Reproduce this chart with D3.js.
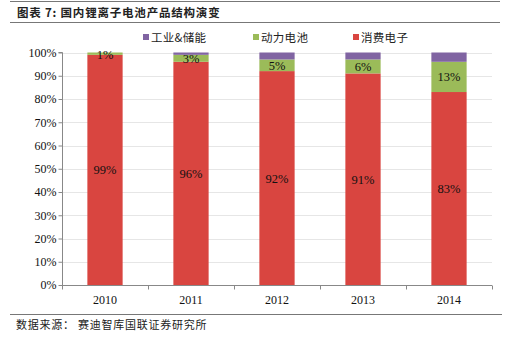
<!DOCTYPE html>
<html>
<head>
<meta charset="utf-8">
<script src="https://cdn.jsdelivr.net/npm/d3@7/dist/d3.min.js"></script>
<style>
  html, body { margin: 0; padding: 0; background: #fff; }
  svg { display: block; }
</style>
</head>
<body>
<svg id="chart" width="531" height="339"></svg>
<script>
// Product mix of domestic Li-ion batteries (share, %)
const years = ["2010", "2011", "2012", "2013", "2014"];
const consumer = [99, 96, 92, 91, 83];     // 消费电子
const power = [1, 3, 5, 6, 13];            // 动力电池
const industrial = [0, 1, 3, 3, 4];        // 工业&储能
const yTicks = [0, 10, 20, 30, 40, 50, 60, 70, 80, 90, 100];
const seriesNames = ["消费电子", "动力电池", "工业&储能"];
const legendOrder = ["工业&储能", "动力电池", "消费电子"];

const colors = { "消费电子": "#D94540", "动力电池": "#9BBB59", "工业&储能": "#8064A2" };
const serif = "'Liberation Serif', 'Times New Roman', serif";
const cjk = "'Noto Sans CJK SC', sans-serif";

const svg = d3.select("#chart");

const rows = years.map((y, i) => ({
  year: y, "消费电子": consumer[i], "动力电池": power[i], "工业&储能": industrial[i]
}));
const stacked = d3.stack().keys(seriesNames)(rows);

const x = d3.scaleBand().domain(years).range([62, 492]).paddingInner(0.59).paddingOuter(0.295);
const y = d3.scaleLinear().domain([0, 100]).range([285, 52.5]);

// header rules and title
svg.append("line").attr("x1", 10).attr("x2", 500).attr("y1", 1.5).attr("y2", 1.5)
  .attr("stroke", "#777").attr("stroke-width", 1);
svg.append("line").attr("x1", 10).attr("x2", 500).attr("y1", 22.5).attr("y2", 22.5)
  .attr("stroke", "#777").attr("stroke-width", 1);
svg.append("text").attr("x", 17).attr("y", 16.5)
  .attr("font-family", cjk).attr("font-size", 11.5).attr("font-weight", "bold").attr("fill", "#222")
  .attr("letter-spacing", 0.8)
  .text("图表 7: 国内锂离子电池产品结构演变");

// gridlines
svg.append("g").selectAll("line").data(yTicks.filter(d => d > 0)).join("line")
  .attr("x1", 62).attr("x2", 492)
  .attr("y1", d => Math.round(y(d)) + 0.5).attr("y2", d => Math.round(y(d)) + 0.5)
  .attr("stroke", "#e6e6e6").attr("stroke-width", 1);

// stacked bars
svg.append("g").selectAll("g").data(stacked).join("g")
  .attr("fill", d => colors[d.key])
  .selectAll("rect").data(d => d).join("rect")
  .attr("x", d => x(d.data.year))
  .attr("width", x.bandwidth())
  .attr("y", d => y(d[1]))
  .attr("height", d => y(d[0]) - y(d[1]));

// y axis
const yAxis = svg.append("g").attr("transform", "translate(62.5,0)")
  .call(d3.axisLeft(y).tickValues(yTicks).tickSize(4).tickFormat(d => d + "%"));
yAxis.select(".domain").attr("stroke", "#888").attr("d", `M-4,${y(100)}H0V${y(0)}`);
yAxis.selectAll(".tick line").attr("stroke", "#888");
yAxis.selectAll(".tick text").attr("font-family", serif).attr("font-size", 12)
  .attr("fill", "#111").attr("x", -6);

// x axis with boundary ticks between categories
const xAxisG = svg.append("g").attr("transform", "translate(0,285.5)");
xAxisG.append("line").attr("x1", 62).attr("x2", 492).attr("stroke", "#888");
const step = x.step();
xAxisG.selectAll("line.tk").data(d3.range(years.length + 1)).join("line")
  .attr("class", "tk")
  .attr("x1", i => Math.round(62 + i * step) + 0.5).attr("x2", i => Math.round(62 + i * step) + 0.5)
  .attr("y1", 0).attr("y2", 4).attr("stroke", "#888");
xAxisG.selectAll("text").data(years).join("text")
  .attr("x", d => x(d) + x.bandwidth() / 2).attr("y", 18)
  .attr("text-anchor", "middle").attr("font-family", serif).attr("font-size", 12).attr("fill", "#111")
  .text(d => d);

// value labels for consumer and power segments
const labelSeries = stacked.filter(s => s.key !== "工业&储能");
svg.append("g").selectAll("g").data(labelSeries).join("g")
  .selectAll("text").data(d => d.map(v => ({ v, key: d.key }))).join("text")
  .attr("x", d => x(d.v.data.year) + x.bandwidth() / 2)
  .attr("y", d => {
    const mid = (y(d.v[0]) + y(d.v[1])) / 2;
    return (d.v[1] - d.v[0] < 2 ? y(d.v[1]) + 2 : mid) + 4.5;
  })
  .attr("text-anchor", "middle").attr("font-family", serif).attr("font-size", 12.5).attr("fill", "#111")
  .text(d => (d.v.data[d.key]) + "%");

// legend
const legendX = [143, 253, 353];
const lg = svg.append("g").selectAll("g").data(legendOrder).join("g")
  .attr("transform", (d, i) => `translate(${legendX[i]},37)`);
lg.append("rect").attr("x", 0).attr("y", -3).attr("width", 6).attr("height", 6)
  .attr("fill", d => colors[d]);
lg.append("text").attr("x", 8).attr("y", 4.5)
  .attr("font-family", cjk).attr("font-size", 11.5).attr("fill", "#222")
  .attr("letter-spacing", 0.3).text(d => d);

// footer rule and source
svg.append("line").attr("x1", 10).attr("x2", 502).attr("y1", 314.5).attr("y2", 314.5)
  .attr("stroke", "#777").attr("stroke-width", 1);
svg.append("text").attr("x", 16).attr("y", 329)
  .attr("font-family", cjk).attr("font-size", 11).attr("fill", "#222")
  .attr("letter-spacing", 0.75)
  .text("数据来源： 赛迪智库国联证券研究所");
</script>
</body>
</html>
